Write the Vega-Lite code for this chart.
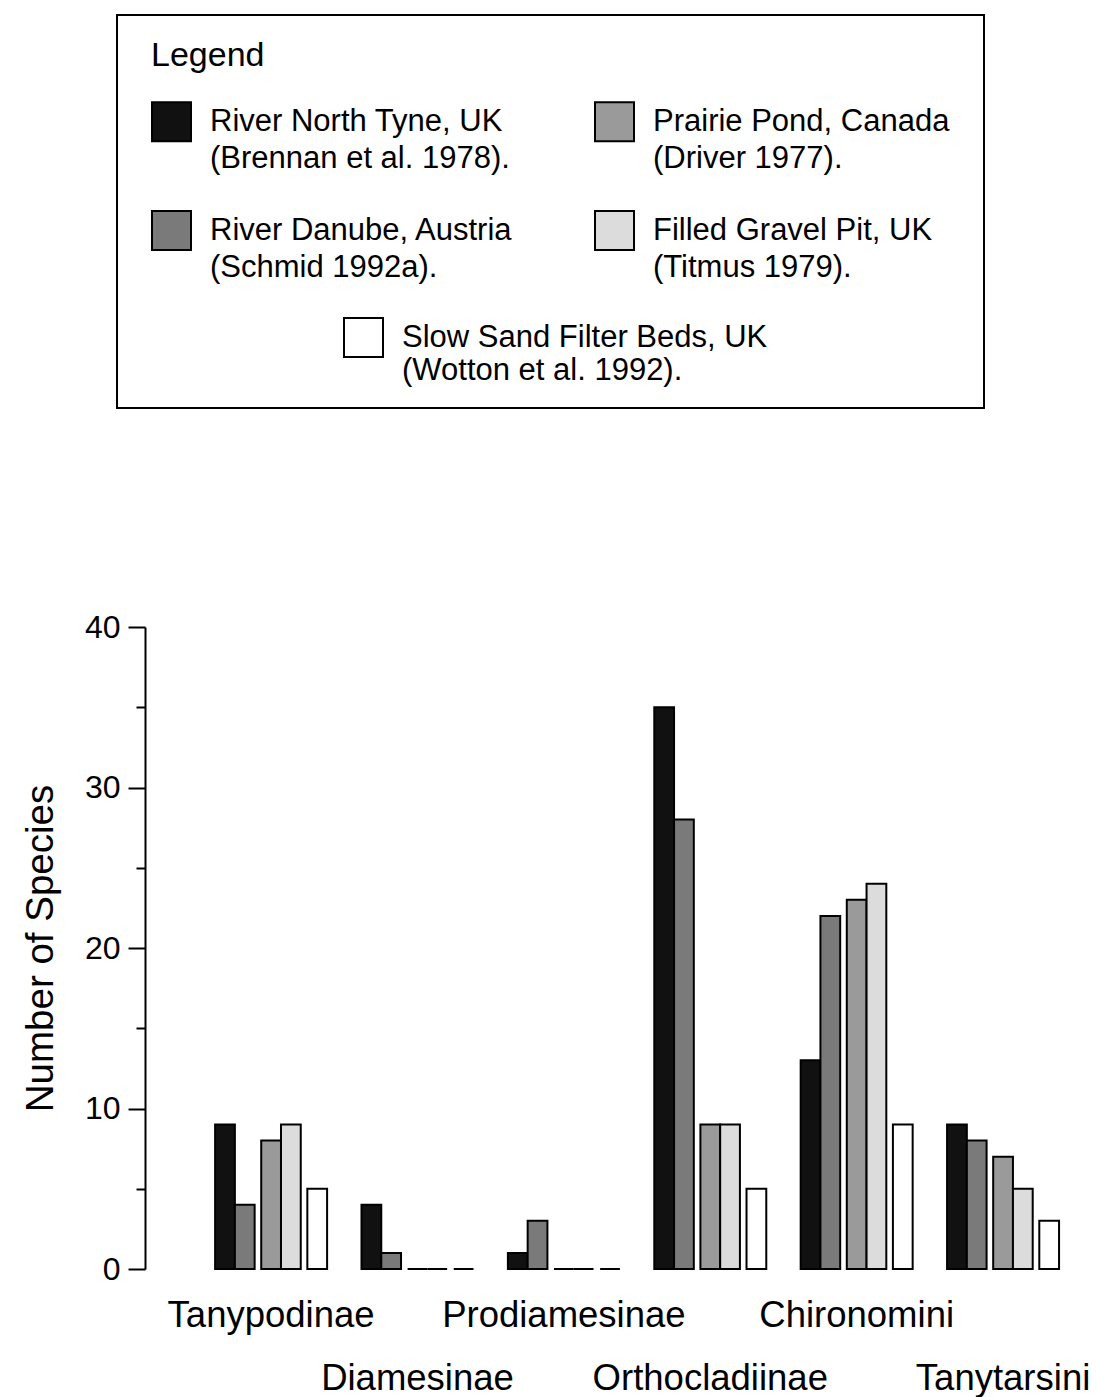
{
  "$schema": "https://vega.github.io/schema/vega-lite/v6.json",
  "autosize": "none",
  "padding": {"left": 145, "top": 627, "right": 16, "bottom": 128},
  "width": 935,
  "height": 642,
  "background": "white",
  "config": {
    "font": "Liberation Sans",
    "view": {"stroke": null},
    "axis": {"grid": false},
    "legend": {"strokeWidth": 2}
  },
  "data": {
    "values": [
      {"subfamily": "Tanypodinae", "site": "River North Tyne, UK", "species": 9},
      {"subfamily": "Tanypodinae", "site": "River Danube, Austria", "species": 4},
      {"subfamily": "Tanypodinae", "site": "Prairie Pond, Canada", "species": 8},
      {"subfamily": "Tanypodinae", "site": "Filled Gravel Pit, UK", "species": 9},
      {"subfamily": "Tanypodinae", "site": "Slow Sand Filter Beds, UK", "species": 5},
      {"subfamily": "Diamesinae", "site": "River North Tyne, UK", "species": 4},
      {"subfamily": "Diamesinae", "site": "River Danube, Austria", "species": 1},
      {"subfamily": "Diamesinae", "site": "Prairie Pond, Canada", "species": 0},
      {"subfamily": "Diamesinae", "site": "Filled Gravel Pit, UK", "species": 0},
      {"subfamily": "Diamesinae", "site": "Slow Sand Filter Beds, UK", "species": 0},
      {"subfamily": "Prodiamesinae", "site": "River North Tyne, UK", "species": 1},
      {"subfamily": "Prodiamesinae", "site": "River Danube, Austria", "species": 3},
      {"subfamily": "Prodiamesinae", "site": "Prairie Pond, Canada", "species": 0},
      {"subfamily": "Prodiamesinae", "site": "Filled Gravel Pit, UK", "species": 0},
      {"subfamily": "Prodiamesinae", "site": "Slow Sand Filter Beds, UK", "species": 0},
      {"subfamily": "Orthocladiinae", "site": "River North Tyne, UK", "species": 35},
      {"subfamily": "Orthocladiinae", "site": "River Danube, Austria", "species": 28},
      {"subfamily": "Orthocladiinae", "site": "Prairie Pond, Canada", "species": 9},
      {"subfamily": "Orthocladiinae", "site": "Filled Gravel Pit, UK", "species": 9},
      {"subfamily": "Orthocladiinae", "site": "Slow Sand Filter Beds, UK", "species": 5},
      {"subfamily": "Chironomini", "site": "River North Tyne, UK", "species": 13},
      {"subfamily": "Chironomini", "site": "River Danube, Austria", "species": 22},
      {"subfamily": "Chironomini", "site": "Prairie Pond, Canada", "species": 23},
      {"subfamily": "Chironomini", "site": "Filled Gravel Pit, UK", "species": 24},
      {"subfamily": "Chironomini", "site": "Slow Sand Filter Beds, UK", "species": 9},
      {"subfamily": "Tanytarsini", "site": "River North Tyne, UK", "species": 9},
      {"subfamily": "Tanytarsini", "site": "River Danube, Austria", "species": 8},
      {"subfamily": "Tanytarsini", "site": "Prairie Pond, Canada", "species": 7},
      {"subfamily": "Tanytarsini", "site": "Filled Gravel Pit, UK", "species": 5},
      {"subfamily": "Tanytarsini", "site": "Slow Sand Filter Beds, UK", "species": 3}
    ]
  },
  "encoding": {
    "x": {
      "field": "subfamily",
      "type": "nominal",
      "sort": ["Tanypodinae", "Diamesinae", "Prodiamesinae", "Orthocladiinae", "Chironomini", "Tanytarsini"],
      "scale": {"paddingInner": 0.235, "paddingOuter": 0.311, "align": 0.77},
      "axis": {
        "title": null,
        "domain": false,
        "ticks": false,
        "labelAngle": 0,
        "labelFontSize": 36.5,
        "labelColor": "black",
        "labelPadding": 28,
        "labelLineHeight": 63,
        "labelOverlap": false,
        "labelBound": false,
        "labelLimit": 400,
        "labelExpr": "indexof(['Diamesinae','Orthocladiinae','Tanytarsini'], datum.label) >= 0 ? ['', datum.label] : datum.label"
      }
    },
    "xOffset": {
      "field": "site",
      "type": "nominal",
      "scale": {
        "domain": ["s0", "River North Tyne, UK", "s2", "s3", "River Danube, Austria", "s5", "s6", "s7", "Prairie Pond, Canada", "s9", "s10", "Filled Gravel Pit, UK", "s12", "s13", "s14", "Slow Sand Filter Beds, UK", "s16"],
        "paddingInner": 0,
        "paddingOuter": 0
      }
    },
    "y": {
      "field": "species",
      "type": "quantitative",
      "scale": {"domain": [0, 40], "nice": false},
      "axis": {
        "title": "Number of Species",
        "titleFontSize": 38.5,
        "titleFontWeight": "normal",
        "titleColor": "black",
        "titlePadding": 24,
        "values": [0, 5, 10, 15, 20, 25, 30, 35, 40],
        "labelExpr": "datum.value % 10 === 0 ? datum.label : ''",
        "labelFontSize": 32,
        "labelColor": "black",
        "labelPadding": 8,
        "domainColor": "black",
        "domainWidth": 2,
        "tickColor": "black",
        "tickWidth": 2,
        "tickSize": {"condition": {"test": "datum.value % 10 === 0", "value": 17}, "value": 9}
      }
    }
  },
  "layer": [
    {
      "transform": [{"filter": "datum.site !== 'Slow Sand Filter Beds, UK'"}],
      "mark": {"type": "bar", "align": "center", "stroke": "black", "strokeWidth": 2, "width": {"band": 3}},
      "encoding": {
        "fill": {
          "field": "site",
          "type": "nominal",
          "scale": {
            "domain": ["River North Tyne, UK", "River Danube, Austria", "Slow Sand Filter Beds, UK", "Prairie Pond, Canada", "Filled Gravel Pit, UK"],
            "range": ["#111111", "#7a7a7a", "#ffffff", "#9a9a9a", "#dcdcdc"]
          },
          "legend": {
            "orient": "none",
            "legendX": -28,
            "legendY": -612,
            "title": "Legend",
            "titleFontSize": 34,
            "titleFontWeight": "normal",
            "titleColor": "black",
            "titlePadding": 18,
            "columns": 2,
            "columnPadding": 77,
            "rowPadding": 33,
            "symbolType": "square",
            "symbolSize": 1521,
            "symbolStrokeColor": "black",
            "symbolStrokeWidth": 2,
            "symbolOpacity": 1,
            "labelFontSize": 31,
            "labelColor": "black",
            "labelOffset": 18,
            "labelLimit": 500,
            "labelExpr": "datum.value == 'River North Tyne, UK' ? [datum.label, '(Brennan et al. 1978).'] : datum.value == 'Prairie Pond, Canada' ? [datum.label, '(Driver 1977).'] : datum.value == 'River Danube, Austria' ? [datum.label, '(Schmid 1992a).'] : datum.value == 'Filled Gravel Pit, UK' ? [datum.label, '(Titmus 1979).'] : ['', '']",
            "strokeColor": "black",
            "padding": 34,
            "encode": {
              "title": {"update": {"dy": {"value": -10}}},
              "labels": {"update": {"lineHeight": {"signal": "datum.value === 'Slow Sand Filter Beds, UK' ? 22 : 37"}, "opacity": {"signal": "datum.value === 'Slow Sand Filter Beds, UK' ? 0 : 1"}}},
              "symbols": {"update": {"opacity": {"signal": "datum.value === 'Slow Sand Filter Beds, UK' ? 0 : 1"}}}
            }
          }
        }
      }
    },
    {
      "transform": [{"filter": "datum.site === 'Slow Sand Filter Beds, UK'"}],
      "mark": {"type": "bar", "align": "center", "fill": "white", "strokeWidth": 2, "width": {"band": 3}},
      "encoding": {
        "stroke": {
          "field": "site",
          "type": "nominal",
          "scale": {"domain": ["Slow Sand Filter Beds, UK"], "range": ["black"]},
          "legend": {
            "orient": "none",
            "legendX": 198,
            "legendY": -310,
            "title": null,
            "symbolType": "square",
            "symbolSize": 1521,
            "symbolFillColor": "white",
            "symbolStrokeWidth": 2,
            "labelFontSize": 31,
            "labelColor": "black",
            "labelOffset": 18,
            "labelLimit": 500,
            "labelExpr": "[datum.label, '(Wotton et al. 1992).']",
            "padding": 0,
            "encode": {
              "labels": {"update": {"dy": {"value": 14}, "lineHeight": {"value": 38}}},
              "symbols": {"update": {"fill": {"value": "white"}}}
            }
          }
        }
      }
    }
  ]
}
